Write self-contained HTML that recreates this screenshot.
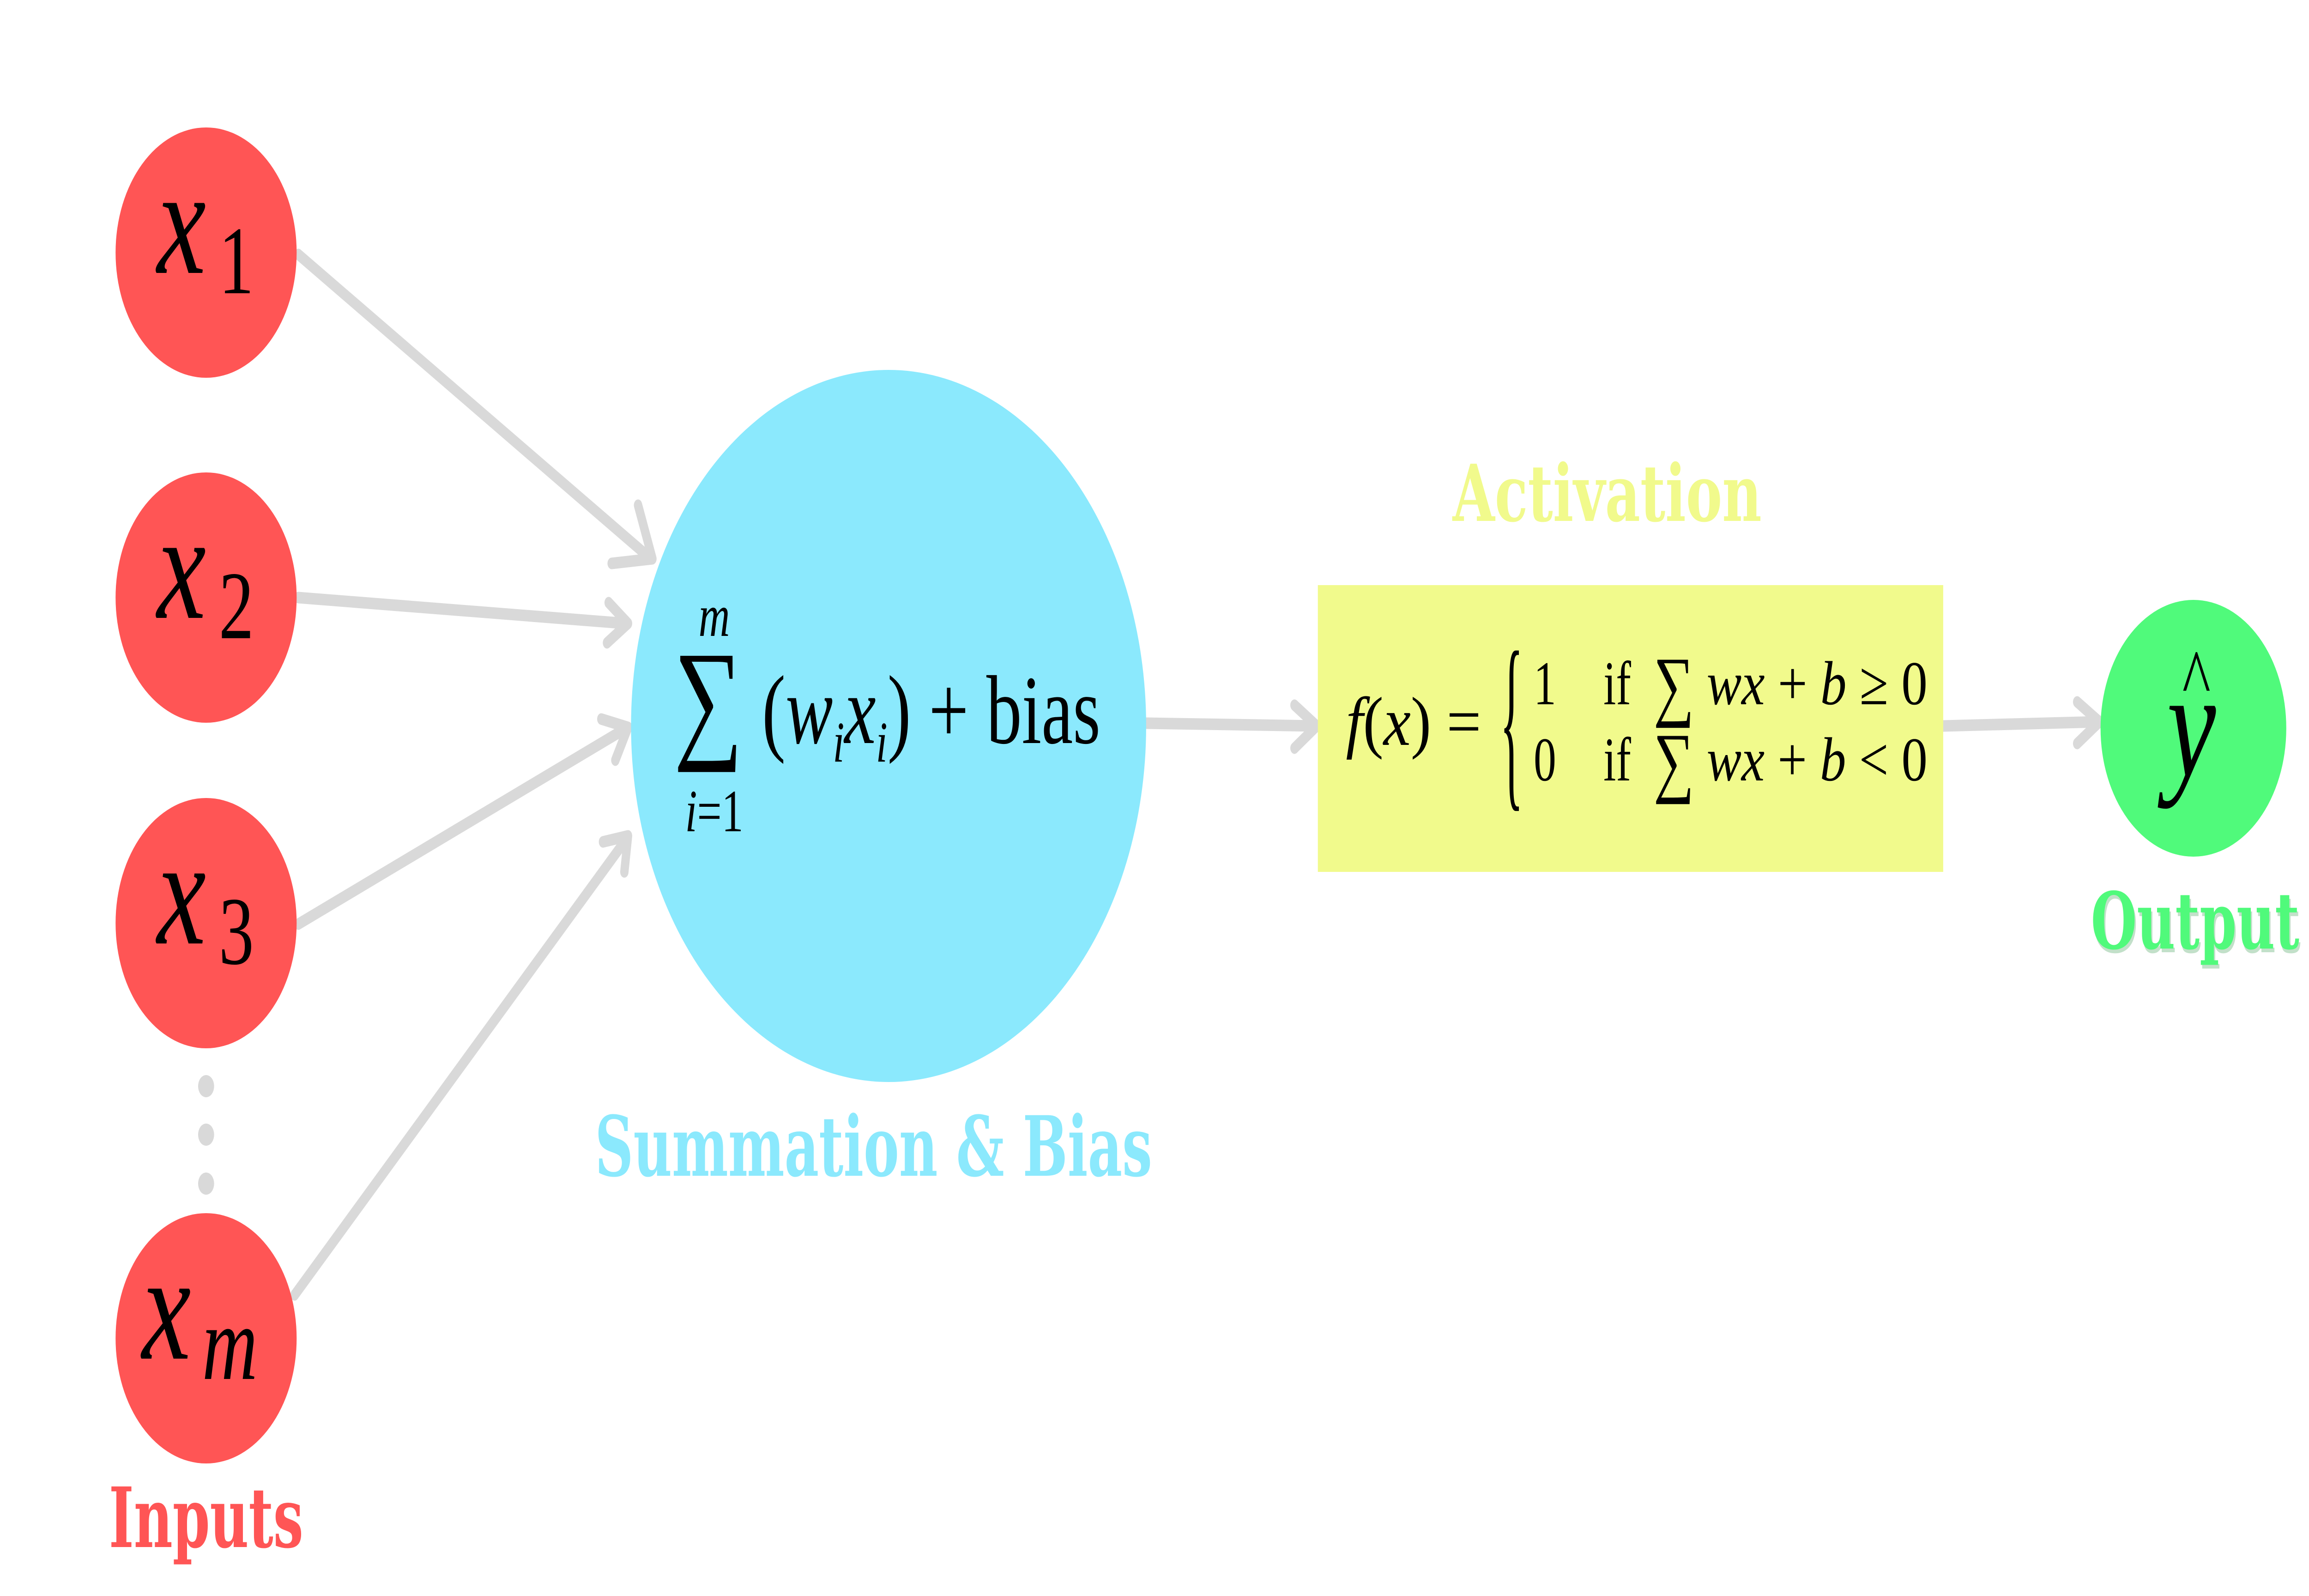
<!DOCTYPE html>
<html><head><meta charset="utf-8"><style>
html,body{margin:0;padding:0;background:#fff;width:100vw;height:100vh;overflow:hidden;}
svg{display:block;width:100vw;height:100vh;}
.m{font-family:"Liberation Serif","DejaVu Serif",serif;fill:#000;}
.lbl{font-family:"DejaVu Serif","Liberation Serif",serif;font-weight:bold;}
</style></head><body>
<svg viewBox="0 0 6912 3456" preserveAspectRatio="none" xmlns="http://www.w3.org/2000/svg">
<rect width="6912" height="3456" fill="#fff"/>
<g stroke="#d9d9d9" stroke-width="25" stroke-linecap="round" stroke-linejoin="round" fill="none">
  <line x1="893" y1="551" x2="1945" y2="1208"/>
  <polyline points="1910,1094 1953,1210 1831,1220"/>
  <line x1="893" y1="1294" x2="1872" y2="1350"/>
  <polyline points="1822,1305 1880,1350 1817,1392"/>
  <line x1="893" y1="2001" x2="1872" y2="1578"/>
  <polyline points="1800,1557 1880,1575 1842,1646"/>
  <line x1="882" y1="2804" x2="1872" y2="1820"/>
  <polyline points="1805,1823 1880,1810 1869,1888"/>
  <line x1="3431" y1="1566" x2="3940" y2="1572"/>
  <polyline points="3875,1527 3942,1572 3875,1620"/>
  <line x1="5817" y1="1572" x2="6283" y2="1563"/>
  <polyline points="6218,1520 6285,1563 6218,1610"/>
</g>
<g fill="#d9d9d9">
  <circle cx="617" cy="2352" r="24"/>
  <circle cx="617" cy="2457" r="24"/>
  <circle cx="617" cy="2563" r="24"/>
</g>
<g fill="#ff5555">
  <circle cx="617" cy="547" r="271"/>
  <circle cx="617" cy="1294" r="271"/>
  <circle cx="617" cy="1999" r="271"/>
  <circle cx="617" cy="2898" r="271"/>
</g>
<g class="m">
  <text x="470" y="591" font-size="330" font-style="italic">x</text><text x="655" y="635" font-size="210">1</text>
  <text x="470" y="1338" font-size="330" font-style="italic">x</text><text x="655" y="1382" font-size="210">2</text>
  <text x="470" y="2043" font-size="330" font-style="italic">x</text><text x="655" y="2087" font-size="210">3</text>
  <text x="425" y="2942" font-size="330" font-style="italic">x</text><text x="605" y="2986" font-size="230" font-style="italic">m</text>
</g>
<circle cx="2660" cy="1572" r="771" fill="#8be9fd"/>
<g class="m">
  <text x="2017" y="1610" font-size="290">∑</text>
  <text x="2138" y="1377" font-size="130" font-style="italic" text-anchor="middle">m</text>
  <text x="2138" y="1800" font-size="130" text-anchor="middle"><tspan font-style="italic">i</tspan>=1</text>
  <text x="2281" y="1609" font-size="212">(<tspan font-style="italic">w</tspan><tspan font-size="125" font-style="italic" dy="40">i</tspan><tspan font-style="italic" dy="-40">x</tspan><tspan font-size="125" font-style="italic" dy="40">i</tspan><tspan dy="-40">) + bias</tspan></text>
</g>
<text class="lbl" x="2615" y="2546" font-size="180" fill="#8be9fd" text-anchor="middle" textLength="1668" lengthAdjust="spacingAndGlyphs">Summation &amp; Bias</text>
<text class="lbl" x="617" y="3350" font-size="180" fill="#ff5555" text-anchor="middle" textLength="582" lengthAdjust="spacingAndGlyphs">Inputs</text>
<text class="lbl" x="4811" y="1128" font-size="170" fill="#f1fa8c" text-anchor="middle" textLength="925" lengthAdjust="spacingAndGlyphs">Activation</text>
<rect x="3945" y="1267" width="1872" height="621" fill="#f1fa8c"/>
<g class="m">
  <text x="4029" y="1613" font-size="150" textLength="405" lengthAdjust="spacingAndGlyphs"><tspan font-style="italic">f</tspan>(<tspan font-style="italic">x</tspan>) =</text>
  <text x="4490" y="1700" font-size="420" textLength="70" lengthAdjust="spacingAndGlyphs">{</text>
  <text x="4591" y="1525" font-size="135">1</text>
  <text x="4800" y="1525" font-size="135">if</text>
  <text x="4950" y="1540" font-size="170">∑</text>
  <text x="5109" y="1525" font-size="135" textLength="661" lengthAdjust="spacingAndGlyphs"><tspan font-style="italic">wx</tspan> + <tspan font-style="italic">b</tspan> ≥ 0</text>
  <text x="4591" y="1690" font-size="135">0</text>
  <text x="4800" y="1690" font-size="135">if</text>
  <text x="4950" y="1705" font-size="170">∑</text>
  <text x="5109" y="1690" font-size="135" textLength="661" lengthAdjust="spacingAndGlyphs"><tspan font-style="italic">wx</tspan> + <tspan font-style="italic">b</tspan> &lt; 0</text>
</g>
<circle cx="6566" cy="1577" r="278" fill="#50fa7b"/>
<text class="m" x="6560" y="1680" font-size="330" font-style="italic" text-anchor="middle">y</text>
<text class="m" x="6575" y="1530" font-size="180" text-anchor="middle">^</text>
<text class="lbl" x="6575" y="2062" font-size="170" fill="#3a9a50" opacity="0.3" text-anchor="middle" textLength="624" lengthAdjust="spacingAndGlyphs">Output</text>
<text class="lbl" x="6571" y="2054" font-size="170" fill="#50fa7b" text-anchor="middle" textLength="624" lengthAdjust="spacingAndGlyphs">Output</text>
</svg>
</body></html>
